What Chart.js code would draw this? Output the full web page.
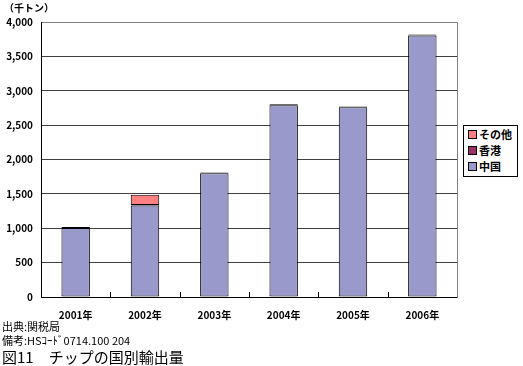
<!DOCTYPE html>
<html><head><meta charset="utf-8">
<script src="https://cdn.jsdelivr.net/npm/chart.js@4/dist/chart.umd.min.js"></script>
<style>
html,body{margin:0;padding:0;background:#fff;}
#wrap{position:relative;width:523px;height:366px;overflow:hidden;font-family:"Noto Sans CJK JP","Noto Sans",sans-serif;color:#000;}
canvas{position:absolute;left:0;top:0;}
.t{position:absolute;white-space:nowrap;line-height:1;}
#legend{position:absolute;left:463px;top:125px;width:55px;height:52px;border:1px solid #000;box-sizing:border-box;background:#fff;}
.li{position:absolute;left:4px;font-size:11px;font-weight:bold;line-height:1;white-space:nowrap;}
.sw{display:inline-block;width:7px;height:7px;border:1px solid #000;margin-right:2px;vertical-align:0px;}
</style></head>
<body>
<div id="wrap">
<canvas id="c" width="523" height="366"></canvas>
<div class="t" style="left:4px;top:3px;font-size:10px;font-weight:bold;">（千トン）</div>
<div class="t" style="left:2px;top:321px;font-size:11px;">出典:関税局</div>
<div class="t" style="left:2px;top:335px;font-size:11px;">備考:HSｺｰﾄﾞ0714.100 204</div>
<div class="t" style="left:2px;top:349px;font-size:15px;">図11　チップの国別輸出量</div>
<div id="legend"></div>
</div>
<script>
const categories = ["2001年","2002年","2003年","2004年","2005年","2006年"];
const seriesNames = ["中国","香港","その他"];
const chinaValues = [1005, 1330, 1800, 2790, 2760, 3805];
const hongKongValues = [12, 8, 10, 15, 10, 12];
const otherValues = [0, 150, 0, 0, 0, 0];
const seriesColors = ["#9999CC", "#993366", "#FF8080"];

const frame = {
  id: 'frame',
  afterDatasetsDraw(chart) {
    const {ctx, chartArea: a, scales: {x}} = chart;
    ctx.save();
    ctx.lineWidth = 1;
    ctx.strokeStyle = '#808080';
    ctx.beginPath();
    ctx.moveTo(a.left, a.top + 0.5); ctx.lineTo(a.right + 0.5, a.top + 0.5);
    ctx.lineTo(a.right + 0.5, a.bottom);
    ctx.stroke();
    ctx.strokeStyle = '#000';
    ctx.beginPath();
    ctx.moveTo(a.left + 0.5, a.top); ctx.lineTo(a.left + 0.5, a.bottom + 0.5);
    ctx.lineTo(a.right + 0.5, a.bottom + 0.5);
    const n = categories.length;
    for (let i = 1; i < n; i++) {
      const px = Math.round((x.getPixelForValue(i - 1) + x.getPixelForValue(i)) / 2) + 0.5;
      ctx.moveTo(px, a.bottom); ctx.lineTo(px, a.bottom - 5);
    }
    ctx.stroke();
    ctx.restore();
  }
};

const datasets = [chinaValues, hongKongValues, otherValues].map((d, i) => ({
  label: seriesNames[i],
  data: d,
  backgroundColor: seriesColors[i],
  borderColor: '#000',
  borderWidth: 1,
  borderSkipped: false,
  categoryPercentage: 1,
  barPercentage: 0.41
}));

const tickFont = { family: '"Noto Sans CJK JP"', size: 10, weight: 'bold' };

new Chart(document.getElementById('c'), {
  type: 'bar',
  data: { labels: categories, datasets },
  options: {
    responsive: false,
    animation: false,
    layout: { padding: { top: 22, right: 66, left: 0, bottom: 0 } },
    plugins: { legend: { display: false }, tooltip: { enabled: false } },
    scales: {
      x: {
        stacked: true,
        grid: { display: false },
        border: { display: false },
        ticks: { color: '#000', font: tickFont, padding: 4, maxRotation: 0 },
        afterFit(s) { s.height = 69; }
      },
      y: {
        stacked: true,
        min: 0, max: 4000,
        ticks: { stepSize: 500, color: '#000', font: tickFont, padding: 8,
          callback: v => v.toLocaleString('en-US') },
        grid: { color: '#404040', lineWidth: 1, drawTicks: false },
        border: { display: false },
        afterFit(s) { s.width = 41; }
      }
    }
  },
  plugins: [frame]
});

const lg = document.getElementById('legend');
[2, 1, 0].forEach((i, k) => {
  const el = document.createElement('div');
  el.className = 'li';
  el.style.top = (3 + k * 16) + 'px';
  el.innerHTML = '<span class="sw" style="background:' + seriesColors[i] + '"></span>' + seriesNames[i];
  lg.appendChild(el);
});
</script>
</body></html>
